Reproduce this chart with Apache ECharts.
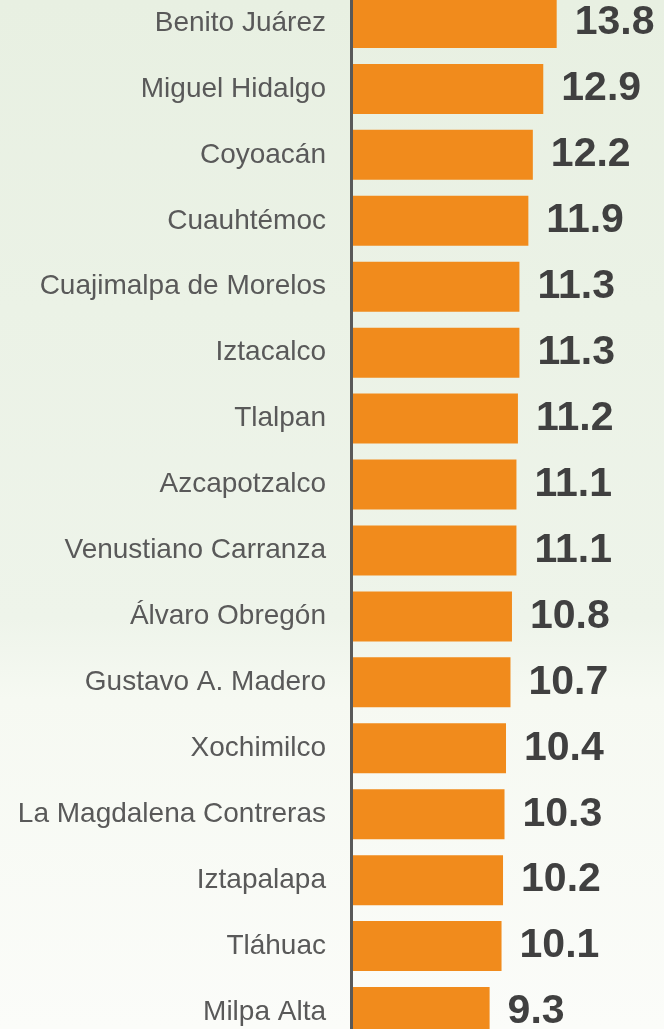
<!DOCTYPE html>
<html>
<head>
<meta charset="utf-8">
<script src="https://cdn.jsdelivr.net/npm/echarts@6/dist/echarts.min.js"></script>
<style>
  html, body { margin: 0; padding: 0; }
  #chart { width: 664px; height: 1029px; }
</style>
</head>
<body>
<div id="chart"></div>
<script>
// alcaldías, ordenadas de mayor a menor
var aAlcaldias = [
  "Benito Juárez", "Miguel Hidalgo", "Coyoacán", "Cuauhtémoc",
  "Cuajimalpa de Morelos", "Iztacalco", "Tlalpan", "Azcapotzalco",
  "Venustiano Carranza", "Álvaro Obregón", "Gustavo A. Madero", "Xochimilco",
  "La Magdalena Contreras", "Iztapalapa", "Tláhuac", "Milpa Alta"
];
var aValores = [13.8, 12.9, 12.2, 11.9, 11.3, 11.3, 11.2, 11.1,
  11.1, 10.8, 10.7, 10.4, 10.3, 10.2, 10.1, 9.3];

var oChart = echarts.init(document.getElementById("chart"));
oChart.setOption({
  backgroundColor: new echarts.graphic.LinearGradient(0, 0, 0, 1, [
    { offset: 0, color: "#e8f0e2" },
    { offset: 0.6, color: "#eef4ea" },
    { offset: 0.68, color: "#f6f9f2" },
    { offset: 1, color: "#fbfcf9" }
  ]),
  textStyle: { fontFamily: "Liberation Sans, Arial, sans-serif" },
  animation: false,
  grid: {
    left: 351,
    right: 0,
    top: -10,
    height: 1055,
    containLabel: false,
    outerBoundsMode: "none"
  },
  xAxis: {
    type: "value",
    min: 0,
    max: 21,
    show: false
  },
  yAxis: {
    type: "category",
    inverse: true,
    z: 5,
    data: aAlcaldias,
    axisLine: { show: true, lineStyle: { color: "#595959", width: 3 } },
    axisTick: { show: false },
    axisLabel: {
      color: "#595959",
      fontSize: 28,
      margin: 25
    }
  },
  series: [
    {
      type: "bar",
      data: aValores,
      barWidth: 50,
      itemStyle: { color: "#f18b1c" },
      label: {
        show: true,
        position: "right",
        distance: 18,
        fontSize: 41,
        fontWeight: "bold",
        color: "#404040",
        formatter: function (p) { return p.value.toFixed(1); }
      }
    }
  ]
});
</script>
</body>
</html>
